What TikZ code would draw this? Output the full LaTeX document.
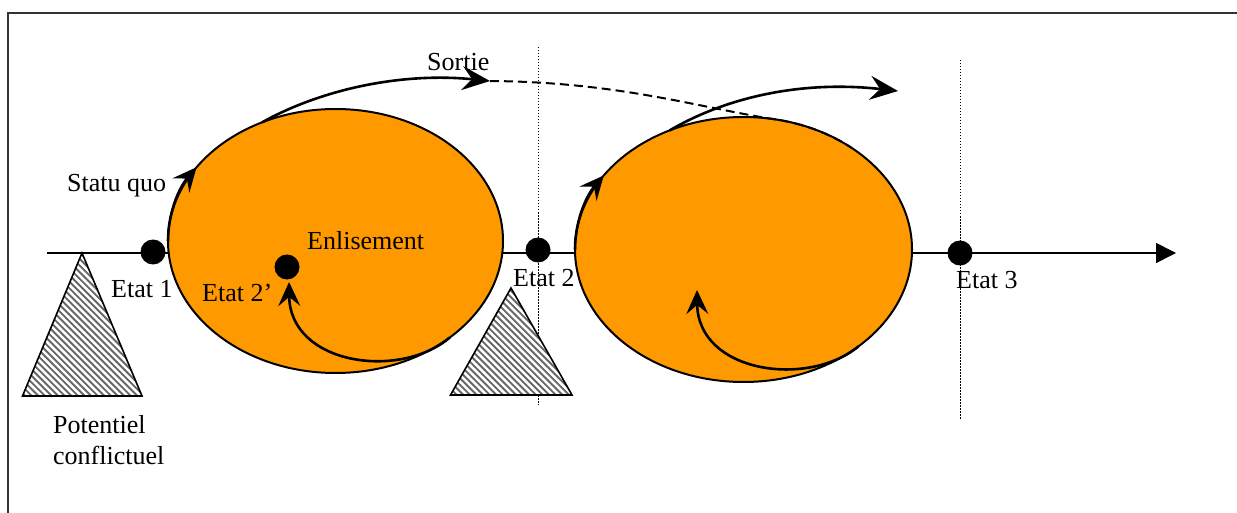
\documentclass[tikz,border=0pt]{standalone}
\usepackage{fontspec}
\setmainfont{Liberation Serif}
\usetikzlibrary{arrows.meta,shapes.geometric,calc}
\definecolor{phase}{RGB}{255,153,0}
\begin{document}
\begin{tikzpicture}[x=1pt,y=-1pt,
  phasebox/.style={ellipse,draw,fill=phase,line width=2pt,inner sep=0,outer sep=0},
  dot/.style={circle,fill=black,minimum size=25pt,inner sep=0},
  lbl/.style={anchor=base west,inner sep=0,font=\fontsize{26}{30}\selectfont},
  flow/.style={line width=2.6pt,-{Stealth[length=24pt,width=22pt,inset=9pt]}},
  bigflow/.style={line width=2.6pt,-{Stealth[length=28pt,width=24pt,inset=10pt]}},
  guide/.style={line width=1pt,dash pattern=on 1.5pt off 1.5pt},
  hatch/.style={line width=1.9pt,black!60},
  wedge/.style={draw,line width=1.6pt},
]
\useasboundingbox (0,0) rectangle (1237,513);
% frame
\draw[line width=1.6pt,black!80] (8,513) -- (8,13) -- (1237,13);

% time axis
\coordinate (a0) at (47,253);
\coordinate (a1) at (1176,253);
\draw[line width=1.6pt,-{Triangle[length=20pt,width=20pt]}] (a0) -- (a1);

% phases
\node[phasebox,minimum width=335pt,minimum height=264pt] (e1) at (335.5,241) {};
\node[phasebox,minimum width=337pt,minimum height=265pt] (e2) at (743.5,249.5) {};

% dotted guides
\coordinate (g1t) at (538,47);
\coordinate (g1b) at (538,405);
\coordinate (g2t) at (960,60);
\coordinate (g2b) at (960,420);
\draw[guide] (g1t) -- (g1b);
\draw[guide] (g2t) -- (g2b);

% potential conflict wedges, hatched
\foreach \ax/\ay/\bl/\br/\by in {82/253/22.5/142/396, 511/288/450.5/572/395}{
  \fill[white] (\ax,\ay) -- (\br,\by) -- (\bl,\by) -- cycle;
  \begin{scope}
    \clip (\ax,\ay) -- (\br,\by) -- (\bl,\by) -- cycle;
    \foreach \k in {0,6.6,...,300}
      \draw[hatch] (\bl-170+\k,\ay-10) -- ++(170,170);
  \end{scope}
  \draw[wedge] (\ax,\ay) -- (\br,\by) -- (\bl,\by) -- cycle;
}

% states
\node[dot] (s1) at (153,252) {};
\node[dot] (s2p) at (287,267) {};
\node[dot] (s2) at (538,250) {};
\node[dot] (s3) at (960,253) {};

% status quo arcs
\draw[flow] (e1.west) arc[start angle=180,end angle=146,x radius=167.5pt,y radius=132pt];
\draw[flow] (e2.west) arc[start angle=180,end angle=146,x radius=168.5pt,y radius=132.5pt];

% exit paths
\coordinate (o1s) at ($(e1.center)+(116:167.5pt and 132pt)$);
\coordinate (o1t) at (490,81);
\draw[bigflow] (o1s) .. controls (320,90) and (400,72) .. (o1t);
\coordinate (o2s) at ($(e2.center)+(116:168.5pt and 132.5pt)$);
\coordinate (o2t) at (898,91);
\draw[bigflow] (o2s) .. controls (725,98) and (800,80) .. (o2t);
\coordinate (d1) at ($(e2.center)+(79:168.5pt and 132.5pt)$);
\draw[line width=2pt,dash pattern=on 9pt off 5pt] (o1t) .. controls (620,82) and (700,108) .. (d1)
  arc[start angle=79,end angle=50,x radius=168.5pt,y radius=132.5pt];

% getting stuck loops
\coordinate (i1s) at ($(e1.center)+(-47:167.5pt and 132pt)$);
\coordinate (i1e) at (289,282);
\draw[flow] (i1s) .. controls (400,380) and (290,365) .. (i1e);
\coordinate (i2s) at ($(e2.center)+(-47:168.5pt and 132.5pt)$);
\coordinate (i2e) at (697,290);
\draw[flow] (i2s) .. controls (808,388) and (698,373) .. (i2e);

% labels
\node[lbl] (tSortie) at (427,71) {Sortie};
\node[lbl] (tStatu) at (67,192) {Statu quo};
\node[lbl] (tEnl) at (307,250) {Enlisement};
\node[lbl] (tE1) at (111,298) {Etat 1};
\node[lbl] (tE2p) at (202,301) {Etat 2’};
\node[lbl] (tE2) at (513,287) {Etat 2};
\node[lbl] (tE3) at (956,288) {Etat 3};
\node[lbl] (tPot) at (53,433) {Potentiel};
\node[lbl] (tConf) at (53,464) {conflictuel};
\end{tikzpicture}
\end{document}
